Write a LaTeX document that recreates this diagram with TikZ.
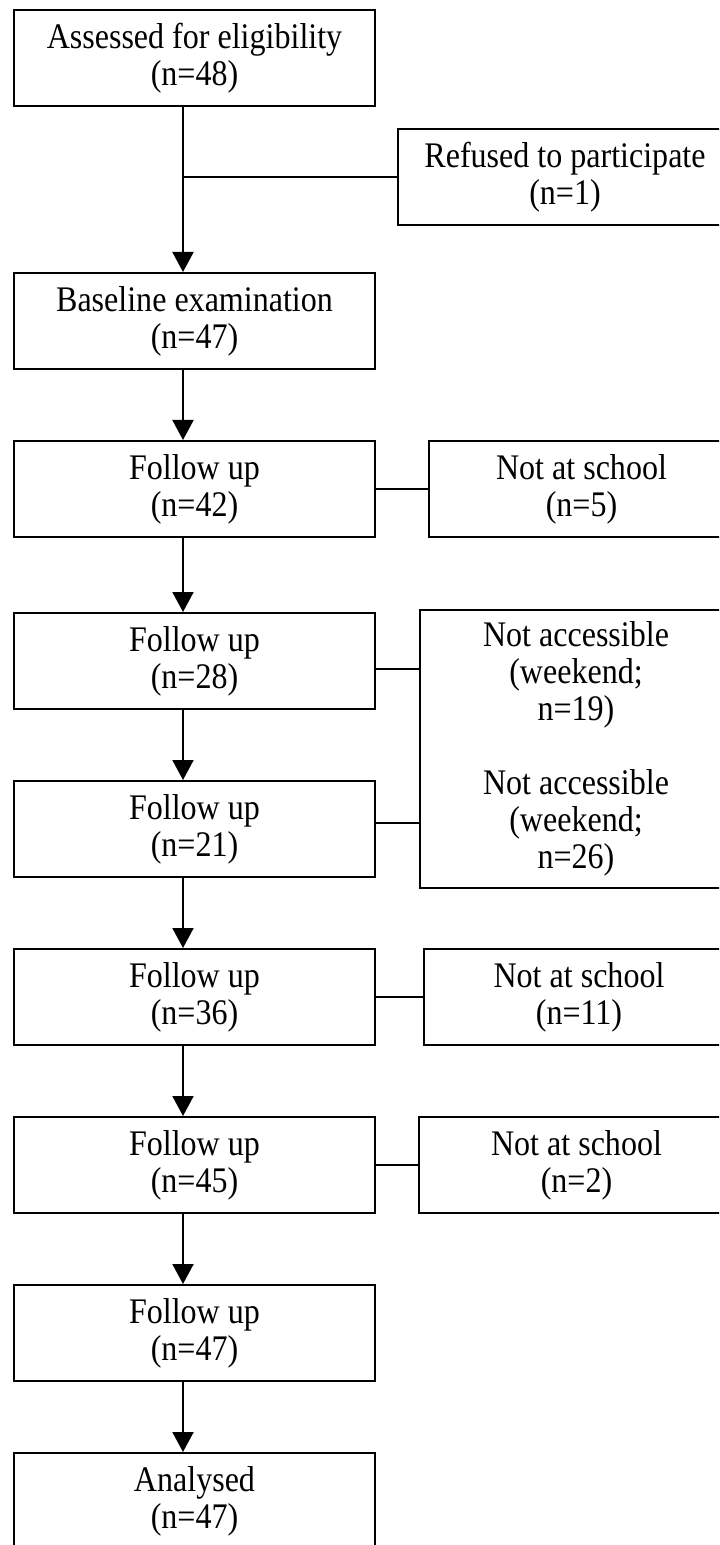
\documentclass[tikz,border=0pt]{standalone}
\usepackage{fontspec}
\setmainfont{Liberation Serif}[FakeStretch=0.89]
\usetikzlibrary{arrows.meta,positioning}
\tikzset{
  every picture/.append style={line width=1pt},
  every node/.append style={font=\fontsize{18}{18.5}\selectfont},
}

\begin{document}
\begin{tikzpicture}[x=0.5pt, y=-0.5pt, node distance=35pt,
  stage/.style={rectangle, draw, minimum width=180.5pt, minimum height=48pt,
                align=center, inner sep=2pt},
  excl/.style={rectangle, draw, minimum height=48pt,
               align=center, inner sep=2pt},
  arrow/.style={-{Triangle[length=10pt,width=10.5pt]}}
]
\useasboundingbox (0,0) rectangle (719,1545);
\clip (0,0) rectangle (719,1545);

% Main stages, one column
\node[stage] (elig) at (194.5,58) {Assessed for eligibility\\(n=48)};
\node[stage, below=82.5pt of elig] (base) {Baseline examination\\(n=47)};
\node[stage, below=of base] (fu42) {Follow up\\(n=42)};
\node[stage, below=37pt of fu42] (fu28) {Follow up\\(n=28)};
\node[stage, below=of fu28] (fu21) {Follow up\\(n=21)};
\node[stage, below=of fu21] (fu36) {Follow up\\(n=36)};
\node[stage, below=of fu36] (fu45) {Follow up\\(n=45)};
\node[stage, below=of fu45] (fu47) {Follow up\\(n=47)};
\node[stage, below=of fu47] (analysed) {Analysed\\(n=47)};

% Exclusions on the right
\node[excl, minimum width=167pt] (refused) at (565,177.5) {Refused to participate\\(n=1)};
\node[excl, minimum width=152.5pt, right=26pt of fu42] (school5) {Not at school\\(n=5)};
\node[excl, minimum width=156pt, minimum height=139pt] (weekend) at (576,749)
  {Not accessible\\(weekend;\\n=19)\\[18.5pt]Not accessible\\(weekend;\\n=26)};
\node[excl, minimum width=155pt, right=23.5pt of fu36] (school11) {Not at school\\(n=11)};
\node[excl, minimum width=157.5pt, right=21pt of fu45] (school2) {Not at school\\(n=2)};

% Flow arrows
\coordinate (spine) at (183,0);
\draw[arrow] (elig.south -| spine) -- (base.north -| spine);
\draw[arrow] (base.south -| spine) -- (fu42.north -| spine);
\draw[arrow] (fu42.south -| spine) -- (fu28.north -| spine);
\draw[arrow] (fu28.south -| spine) -- (fu21.north -| spine);
\draw[arrow] (fu21.south -| spine) -- (fu36.north -| spine);
\draw[arrow] (fu36.south -| spine) -- (fu45.north -| spine);
\draw[arrow] (fu45.south -| spine) -- (fu47.north -| spine);
\draw[arrow] (fu47.south -| spine) -- (analysed.north -| spine);

% Side links
\draw (refused.west -| spine) -- (refused.west);
\draw (fu42.east) -- (school5.west);
\draw ([yshift=-4pt]fu28.east) -- ([yshift=-4pt]fu28.east -| weekend.west);
\draw ([yshift=3pt]fu21.east) -- ([yshift=3pt]fu21.east -| weekend.west);
\draw (fu36.east) -- (school11.west);
\draw (fu45.east) -- (school2.west);

\end{tikzpicture}
\end{document}
